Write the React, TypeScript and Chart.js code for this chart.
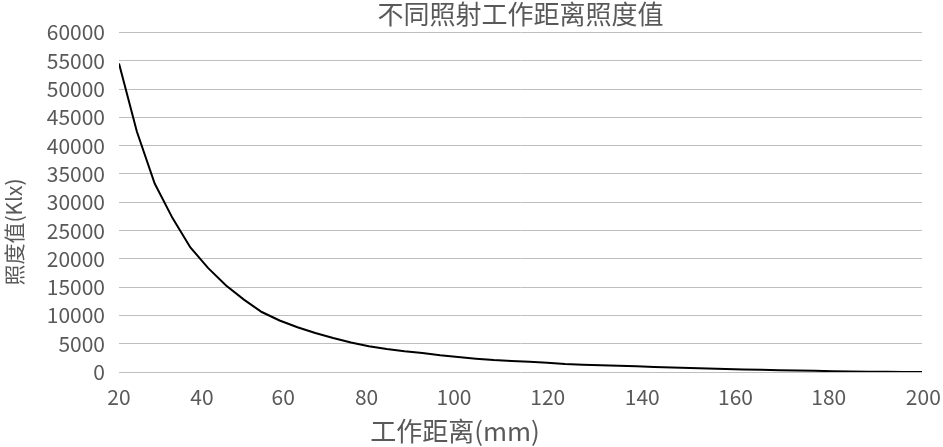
import React, { useEffect, useRef } from "react";
import { Chart, registerables } from "chart.js";

Chart.register(...registerables);

const distances = [
  20, 24, 28, 32, 36, 40, 44, 48, 52, 56, 60, 64, 68, 72, 76, 80, 84, 88, 92, 96,
  100, 104, 108, 112, 116, 120, 124, 128, 132, 136, 140, 144, 148, 152, 156, 160,
  164, 168, 172, 176, 180, 184, 188, 192, 196, 200,
];
const illuminance = [
  54500, 42500, 33300, 27200, 22000, 18350, 15300, 12800, 10600, 9100, 7900, 6900,
  6000, 5200, 4550, 4050, 3650, 3350, 2950, 2650, 2350, 2100, 1950, 1800, 1650,
  1400, 1300, 1200, 1100, 1000, 900, 800, 700, 600, 550, 450, 400, 300, 250, 200,
  150, 100, 50, 30, 20, 0,
];
// tick labels of the x axis and where along the axis the reference prints them
const xTickLabels = ["20", "40", "60", "80", "100", "120", "140", "160", "180", "200"];
const xTickAt = [20, 38.6, 56.8, 75.5, 95.1, 116.1, 137.3, 158.2, 179.1, 200.3];
const chartTitle = "不同照射工作距离照度值";
const xTitle = "工作距离(mm)";
const yTitle = "照度值(Klx)";

const FONT = "'Noto Sans CJK SC', 'Noto Sans', sans-serif";
const TEXT = "#595959";

export default function App() {
  const ref = useRef<HTMLCanvasElement | null>(null);

  useEffect(() => {
    document.body.style.margin = "0";
    const canvas = ref.current;
    if (!canvas) return;

    const titlesPlugin = {
      id: "titlesPlugin",
      afterDraw(chart: any) {
        const ctx = chart.ctx;
        const area = chart.chartArea;
        ctx.save();
        ctx.fillStyle = TEXT;
        ctx.textAlign = "center";
        ctx.textBaseline = "middle";
        ctx.font = `26px ${FONT}`;
        ctx.fillText(chartTitle, (area.left + area.right) / 2, 14);
        ctx.font = `26px ${FONT}`;
        ctx.fillText(xTitle, 455, 431);
        ctx.translate(14, 232);
        ctx.rotate(-Math.PI / 2);
        ctx.font = `21px ${FONT}`;
        ctx.fillText(yTitle, 0, 0);
        ctx.restore();
      },
    };

    const chart = new Chart(canvas, {
      type: "line",
      data: {
        datasets: [
          {
            data: distances.map((d, i) => ({ x: d, y: illuminance[i] })),
            borderColor: "#000000",
            borderWidth: 2,
            pointRadius: 0,
            tension: 0,
            fill: false,
          },
        ],
      },
      options: {
        responsive: false,
        animation: false,
        layout: { padding: { left: 0, right: 21, top: 32.5, bottom: 0 } },
        plugins: {
          legend: { display: false },
          tooltip: { enabled: false },
          title: { display: false },
        },
        scales: {
          x: {
            type: "linear",
            min: 20,
            max: 200,
            afterBuildTicks(scale: any) {
              scale.ticks = xTickAt.map((v) => ({ value: v }));
            },
            afterFit(scale: any) {
              scale.height = 75;
              scale.paddingRight = 0;
              scale.paddingLeft = 0;
            },
            grid: { display: false, drawTicks: false },
            border: { display: false },
            ticks: {
              color: TEXT,
              font: { family: FONT, size: 21 },
              padding: 12,
              maxRotation: 0,
              autoSkip: false,
              callback: (_v: any, i: number) => xTickLabels[i],
            },
          },
          y: {
            min: 0,
            max: 60000,
            afterFit(scale: any) {
              scale.width = 119;
              scale.paddingTop = 0;
              scale.paddingBottom = 0;
            },
            grid: { color: "#bfbfbf", lineWidth: 1, drawTicks: false },
            border: { display: false },
            ticks: {
              stepSize: 5000,
              color: TEXT,
              font: { family: FONT, size: 21 },
              padding: 14,
              callback: (v: any) => String(v),
            },
          },
        },
      },
      plugins: [titlesPlugin],
    });

    return () => chart.destroy();
  }, []);

  return (
    <div style={{ width: 943, height: 447 }}>
      <canvas ref={ref} width={943} height={447} style={{ width: 943, height: 447 }} />
    </div>
  );
}
